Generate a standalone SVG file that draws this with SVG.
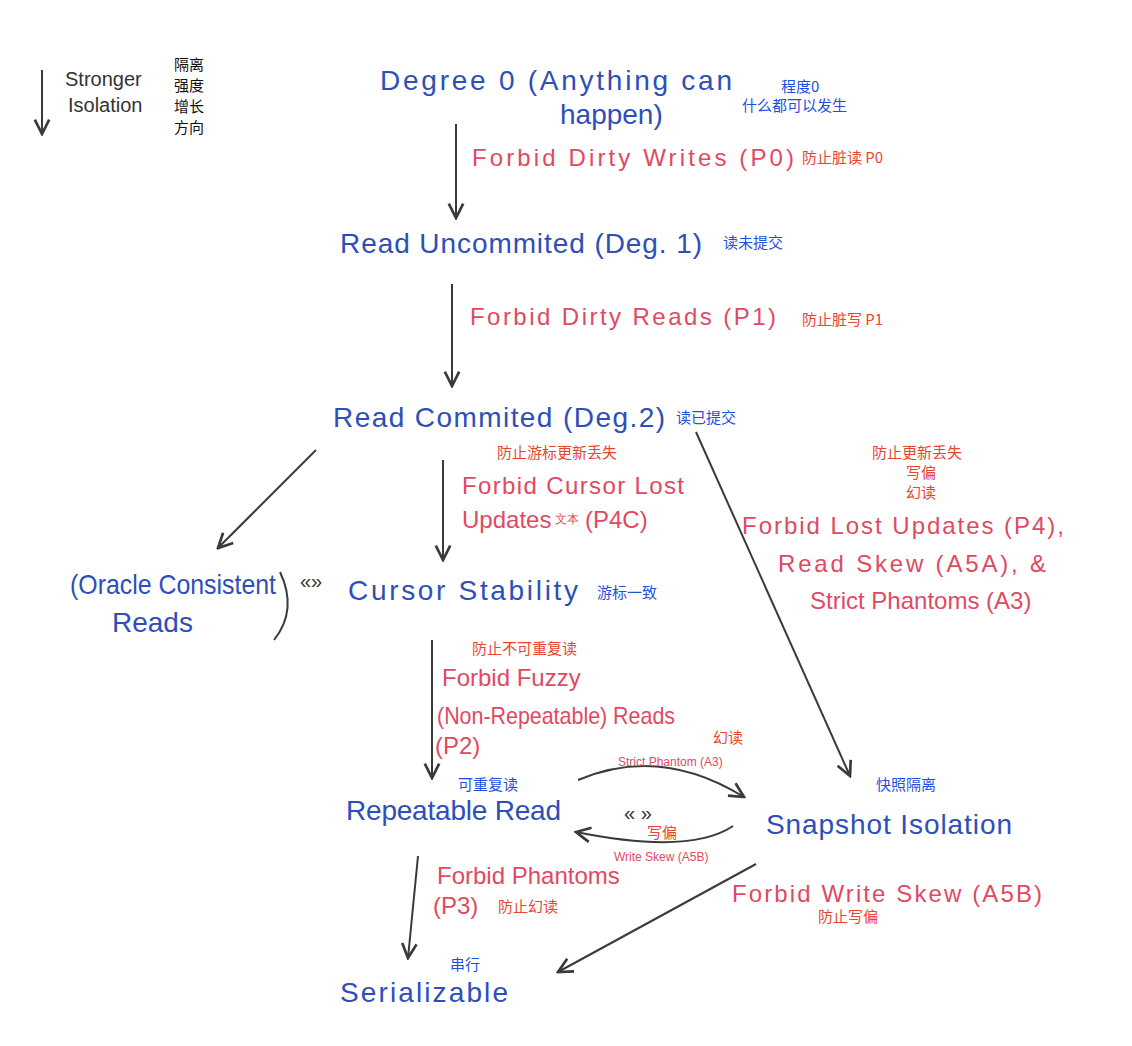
<svg xmlns="http://www.w3.org/2000/svg" width="1132" height="1046" viewBox="0 0 1132 1046">
<style>
.b{font-family:"Liberation Sans",sans-serif;fill:#2e4fb8;font-size:28px}
.r{font-family:"Liberation Sans",sans-serif;fill:#df4a62;font-size:24px}
.rs{font-family:"Liberation Sans",sans-serif;fill:#df4a62;font-size:12px}
.cb{font-family:"Noto Sans CJK SC",sans-serif;fill:#1f4fe0;font-size:15px}
.cr{font-family:"Noto Sans CJK SC",sans-serif;fill:#e8452f;font-size:15px}
.k{font-family:"Liberation Sans",sans-serif;fill:#333;font-size:20px}
.ck{font-family:"Noto Sans CJK SC",sans-serif;fill:#111;font-size:15px}
.l{stroke:#3a3a3a;stroke-width:2;fill:none}
</style>
<defs><marker id="a" viewBox="0 0 10 10" refX="9" refY="5" markerWidth="9" markerHeight="9" orient="auto"><path d="M1 1L9 5L1 9" fill="none" stroke="#3a3a3a" stroke-width="1.5"/></marker></defs>
<rect width="1132" height="1046" fill="#fff"/>
<g id="legend">
<path class="l" d="M42 70V134" marker-end="url(#a)"/>
<text class="k" x="65" y="86">Stronger</text><text class="k" x="68" y="112">Isolation</text>
<text class="ck" x="174" y="70">隔离</text><text class="ck" x="174" y="91">强度</text><text class="ck" x="174" y="112">增长</text><text class="ck" x="174" y="133">方向</text>
</g>
<g id="connectors">
<path class="l" d="M456 124V218" marker-end="url(#a)"/>
<path class="l" d="M452 284V386" marker-end="url(#a)"/>
<path class="l" d="M316 450L218 548" marker-end="url(#a)"/>
<path class="l" d="M443 460V560" marker-end="url(#a)"/>
<path class="l" d="M696 432L850 776" marker-end="url(#a)"/>
<path class="l" d="M432 640V778" marker-end="url(#a)"/>
<path class="l" d="M578 780Q660 745 744 797" marker-end="url(#a)"/>
<path class="l" d="M733 826Q690 855 576 832" marker-end="url(#a)"/>
<path class="l" d="M418 856L408 958" marker-end="url(#a)"/>
<path class="l" d="M756 864L558 972" marker-end="url(#a)"/>
</g>
<g id="n0"><text class="b" x="380" y="90" textLength="352">Degree 0  (Anything can</text><text class="b" x="560" y="124">happen)</text>
<text class="cb" x="781" y="92">程度0</text><text class="cb" x="742" y="111">什么都可以发生</text></g>
<g id="e0"><text class="r" x="472" y="166" textLength="322">Forbid Dirty Writes (P0)</text><text class="cr" x="802" y="163">防止脏读 P0</text></g>
<g id="n1"><text class="b" x="340" y="253" textLength="362">Read Uncommited  (Deg. 1)</text><text class="cb" x="723" y="248">读未提交</text></g>
<g id="e1"><text class="r" x="470" y="325" textLength="306">Forbid Dirty Reads (P1)</text><text class="cr" x="802" y="325">防止脏写 P1</text></g>
<g id="n2"><text class="b" x="333" y="427" textLength="332">Read Commited  (Deg.2)</text><text class="cb" x="676" y="423">读已提交</text></g>
<g id="e2"><text class="cr" x="497" y="458">防止游标更新丢失</text><text class="r" x="462" y="494" textLength="222">Forbid Cursor Lost</text><text class="r" x="462" y="528">Updates</text><text class="rs" x="555" y="523">文本</text><text class="r" x="585" y="528">(P4C)</text></g>
<g id="e3"><text class="cr" x="872" y="458">防止更新丢失</text><text class="cr" x="906" y="478">写偏</text><text class="cr" x="906" y="498">幻读</text>
<text class="r" x="742" y="534" textLength="322">Forbid Lost Updates (P4),</text><text class="r" x="778" y="572" textLength="268">Read Skew (A5A), &amp;</text><text class="r" x="810" y="609">Strict Phantoms (A3)</text></g>
<g id="oracle"><text class="b" x="70" y="594" textLength="206" lengthAdjust="spacingAndGlyphs">(Oracle Consistent</text><text class="b" x="112" y="632">Reads</text><path class="l" d="M280 572Q298 610 274 640"/><text class="k" x="300" y="588" font-size="17">«»</text></g>
<g id="cs"><text class="b" x="348" y="600" textLength="230">Cursor Stability</text><text class="cb" x="597" y="598">游标一致</text></g>
<g id="e4"><text class="cr" x="472" y="654">防止不可重复读</text><text class="r" x="442" y="686">Forbid Fuzzy</text><text class="r" x="437" y="724" textLength="238" lengthAdjust="spacingAndGlyphs">(Non-Repeatable) Reads</text><text class="r" x="435" y="754">(P2)</text></g>
<g id="rr"><text class="b" x="346" y="820" textLength="215">Repeatable Read</text><text class="cb" x="458" y="790">可重复读</text></g>
<g id="si"><text class="b" x="766" y="834" textLength="246">Snapshot Isolation</text><text class="cb" x="876" y="790">快照隔离</text></g>
<g id="mid"><text class="cr" x="713" y="743">幻读</text><text class="rs" x="618" y="766">Strict Phantom (A3)</text><text class="k" x="624" y="820">«  »</text><text class="cr" x="647" y="838">写偏</text><text class="rs" x="614" y="861">Write Skew (A5B)</text></g>
<g id="e5"><text class="r" x="437" y="884">Forbid Phantoms</text><text class="r" x="433" y="914">(P3)</text><text class="cr" x="498" y="912">防止幻读</text></g>
<g id="e6"><text class="r" x="732" y="902" textLength="310">Forbid Write Skew (A5B)</text><text class="cr" x="818" y="922">防止写偏</text></g>
<g id="ser"><text class="b" x="340" y="1002" textLength="168">Serializable</text><text class="cb" x="450" y="970">串行</text></g>
</svg>
